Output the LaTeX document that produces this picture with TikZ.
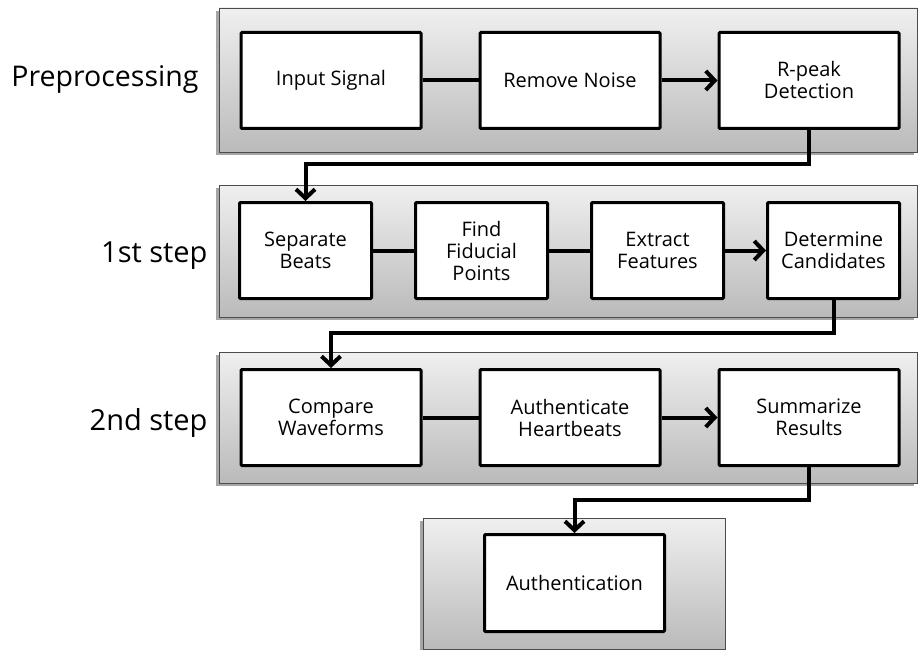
\documentclass[tikz,border=0pt]{standalone}
\usepackage{fontspec}
\setmainfont{Open Sans}
\usetikzlibrary{calc,arrows.meta,positioning}

\tikzset{
  panel/.style={draw=black!70, line width=0.8pt, top color=black!6, bottom color=black!27},
  backshade/.style={fill=black!35},
  stage/.style={draw, line width=3pt, fill=white, minimum height=96pt, align=center,
    rounded corners=1pt, font=\fontsize{20}{22}\selectfont},
  wide/.style={stage, minimum width=180pt},
  narrow/.style={stage, minimum width=132pt},
  link/.style={line width=4pt},
  arr/.style={link, -{Straight Barb[length=9pt,width=19pt]}},
  tag/.style={anchor=base east, font=\fontsize{29}{34}\selectfont}
}

\begin{document}
\begin{tikzpicture}[x=1pt,y=-1pt]
    \useasboundingbox (0,0) rectangle (921,650);
    % grey panels with their shadow
    \fill[backshade] (216,11) rectangle (914,155);
    \draw[panel] (219,8) rectangle (917,152);
    \fill[backshade] (216,188) rectangle (914,320);
    \draw[panel] (219,185) rectangle (917,317);
    \fill[backshade] (216,355) rectangle (914,486);
    \draw[panel] (219,352) rectangle (917,483);
    \fill[backshade] (420,521) rectangle (722,653);
    \draw[panel] (423,518) rectangle (725,649);

    \node[tag, font=\fontsize{28.5}{34}\selectfont] (pre) at (202,87) {Preprocessing};
    \node[tag] (step1) at (211,262) {1st step};
    \node[tag] (step2) at (211,430) {2nd step};

    \node[wide] (input) at (331,80.5) {Input Signal};
    \node[wide, right=56pt of input] (noise) {Remove Noise};
    \node[wide, right=56pt of noise] (rpeak) {R-peak\\Detection};

    \node[narrow] (sep) at (305.5,250.5) {Separate\\Beats};
    \node[narrow, right=41pt of sep] (fid) {Find\\Fiducial\\Points};
    \node[narrow, right=41pt of fid] (ext) {Extract\\Features};
    \node[narrow, right=41pt of ext] (cand) {Determine\\Candidates};

    \node[wide] (cmp) at (331,417.5) {Compare\\Waveforms};
    \node[wide, right=56pt of cmp] (auth) {Authenticate\\Heartbeats};
    \node[wide, right=56pt of auth] (summ) {Summarize\\Results};

    \node[wide, minimum height=97pt] (final) at (574.5,583) {Authentication};

    \draw[link] (input) -- (noise);
    \draw[arr] (noise) -- (rpeak);
    \draw[link] (sep) -- (fid);
    \draw[link] (fid) -- (ext);
    \draw[arr] (ext) -- (cand);
    \draw[link] (cmp) -- (auth);
    \draw[arr] (auth) -- (summ);

    \draw[arr] (rpeak.south) -- ++(0,34) -| (sep.north);
    \draw[arr] (cand.south) -- ++(0,33) -| (cmp.north);
    \draw[arr] (summ.south) -- ++(0,33) -| (final.north);
\end{tikzpicture}
\end{document}
